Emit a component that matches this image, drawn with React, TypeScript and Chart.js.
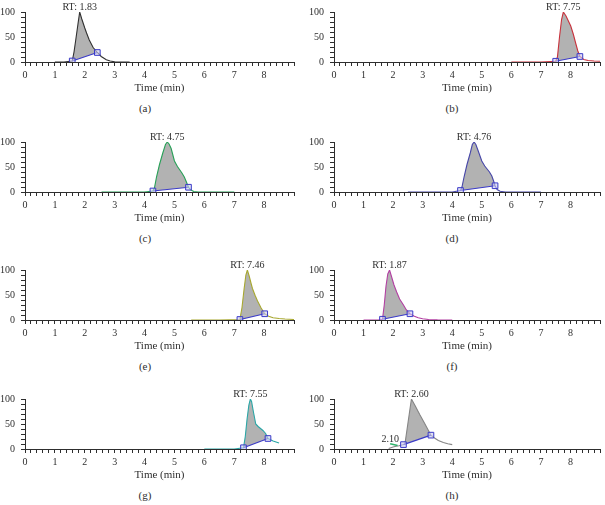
import React, { useEffect, useRef } from "react";
import { Chart, registerables } from "chart.js";

Chart.register(...registerables);

// ---------- data (time in min, relative abundance in %) ----------
const timeA = [1.0, 1.3, 1.58, 1.64, 1.7, 1.77, 1.83, 1.9, 2.0, 2.06, 2.15, 2.28, 2.42, 2.55, 2.72, 2.85, 3.0, 3.2, 3.5];
const signalA = [0, 0, 2, 20, 45, 75, 100, 86, 68, 58, 44, 29, 19, 11, 4.5, 2, 0.5, 0.1, 0];
const baseTimeA = [1.58, 2.42];
const baseSignalA = [2, 19];

const timeB = [6.0, 7.0, 7.5, 7.56, 7.63, 7.7, 7.76, 7.85, 7.93, 8.01, 8.1, 8.18, 8.25, 8.32, 8.45, 8.6, 8.8, 9.0];
const signalB = [0, 0, 1.5, 10, 50, 85, 100, 92, 82, 72, 55, 37, 22, 11, 5, 3, 2, 1.5];
const baseTimeB = [7.5, 8.32];
const baseSignalB = [1.5, 11];

const timeC = [2.56, 4.0, 4.28, 4.33, 4.4, 4.5, 4.61, 4.7, 4.76, 4.82, 4.89, 5.0, 5.1, 5.17, 5.25, 5.33, 5.4, 5.47, 5.55, 5.65, 5.8, 6.5, 7.0];
const signalC = [0, 0, 2, 8, 30, 55, 78, 95, 100, 96, 87, 62, 51, 45, 38, 30, 20, 9.5, 4, 1, 0, 0, 0];
const baseTimeC = [4.28, 5.47];
const baseSignalC = [2, 9.5];

const timeD = [2.5, 4.0, 4.28, 4.33, 4.4, 4.5, 4.61, 4.68, 4.74, 4.8, 4.88, 5.0, 5.1, 5.18, 5.26, 5.34, 5.4, 5.45, 5.52, 5.62, 5.8, 6.5, 7.0];
const signalD = [0, 0, 3, 10, 30, 55, 78, 95, 100, 95, 82, 62, 52, 46, 40, 32, 22, 12.5, 5, 1.5, 0, 0, 0];
const baseTimeD = [4.28, 5.45];
const baseSignalD = [3, 12.5];

const timeE = [5.56, 6.5, 7.19, 7.26, 7.33, 7.39, 7.44, 7.5, 7.56, 7.61, 7.7, 7.78, 7.9, 8.02, 8.15, 8.3, 8.5, 8.7, 9.0];
const signalE = [0, 0, 1, 25, 62, 90, 100, 88, 74, 63, 49, 38, 24, 12.5, 7.5, 4.5, 3, 2, 1];
const baseTimeE = [7.19, 8.02];
const baseSignalE = [1, 12.5];

const timeF = [1.0, 1.5, 1.64, 1.7, 1.76, 1.82, 1.88, 1.95, 2.03, 2.12, 2.22, 2.34, 2.45, 2.57, 2.7, 2.85, 3.0, 3.2, 3.5, 4.0];
const signalF = [0, 0, 1.5, 30, 68, 92, 100, 86, 70, 56, 42, 31, 20, 12.5, 8, 4.5, 2.5, 1, 0.3, 0];
const baseTimeF = [1.64, 2.57];
const baseSignalF = [1.5, 12.5];

const timeG = [6.0, 7.0, 7.31, 7.37, 7.43, 7.49, 7.54, 7.58, 7.64, 7.72, 7.8, 7.88, 7.96, 8.05, 8.13, 8.3, 8.5];
const signalG = [0, 0, 2.5, 25, 60, 88, 100, 95, 75, 50, 45, 41, 37, 31, 21, 16, 12];
const baseTimeG = [7.31, 8.13];
const baseSignalG = [2.5, 21];

const timeH = [1.85, 2.0, 2.1, 2.2, 2.35, 2.4, 2.5, 2.62, 2.75, 2.9, 3.05, 3.2, 3.28, 3.4, 3.53, 3.7, 3.85, 4.0];
const signalH = [1, 4, 5.5, 6.5, 8.8, 10, 51, 100, 86, 69, 53, 36.5, 27.7, 22, 17, 13, 10.5, 8.8];
const baseTimeH = [2.35, 3.28];
const baseSignalH = [8.8, 27.7];
const minorTimeH = [1.9, 2.15];
const minorSignalH = [10.5, 7];

const rtLabels = ["1.83", "7.75", "4.75", "4.76", "7.46", "1.87", "7.55", "2.60"];
const panelLetters = ["a", "b", "c", "d", "e", "f", "g", "h"];
const xLabelValues = [0, 1, 2, 3, 4, 5, 6, 7, 8];
const yLabelValues = [0, 50, 100];
const xTitle = "Time (min)";

// ---------- styling / layout ----------
const FONT = '"Liberation Serif", "DejaVu Serif", serif';
const AXIS = "#2e2e2e";
const BASE_COLOR = "#3b3bc8";
const FILL = "#b2b2b2";
const PAD_TOP = 9;
const PLOT_H = 53;
const XAXIS_H = 33;
const YAXIS_W = 25;
const CANVAS_H = PAD_TOP + PLOT_H + XAXIS_H;

type PanelCfg = {
  time: number[];
  signal: number[];
  baseTime: number[];
  baseSignal: number[];
  color: string;
  left: number;
  top: number;
  width: number;
  rt: string;
  letter: string;
  minorTime?: number[];
  minorSignal?: number[];
  minorLabel?: string;
};

const colLeft = [0, 309];
const colWidth = [299, 296];
const rowTop = [0, 130, 258, 387];
const colors = ["#303030", "#c8323c", "#27a057", "#4646a8", "#a8a830", "#b23fa2", "#2aa6a6", "#858585"];
const series = [
  [timeA, signalA, baseTimeA, baseSignalA],
  [timeB, signalB, baseTimeB, baseSignalB],
  [timeC, signalC, baseTimeC, baseSignalC],
  [timeD, signalD, baseTimeD, baseSignalD],
  [timeE, signalE, baseTimeE, baseSignalE],
  [timeF, signalF, baseTimeF, baseSignalF],
  [timeG, signalG, baseTimeG, baseSignalG],
  [timeH, signalH, baseTimeH, baseSignalH],
];

const panels: PanelCfg[] = series.map((s, i) => ({
  time: s[0],
  signal: s[1],
  baseTime: s[2],
  baseSignal: s[3],
  color: colors[i],
  left: colLeft[i % 2],
  top: rowTop[Math.floor(i / 2)],
  width: colWidth[i % 2],
  rt: rtLabels[i],
  letter: panelLetters[i],
  ...(i === 7 ? { minorTime: minorTimeH, minorSignal: minorSignalH, minorLabel: "2.10" } : {}),
}));

function Panel({ cfg }: { cfg: PanelCfg }) {
  const ref = useRef<HTMLCanvasElement>(null);
  useEffect(() => {
    if (!ref.current) return;
    const curve = cfg.time.map((t, i) => ({ x: t, y: cfg.signal[i] }));
    const area = curve.filter((p) => p.x >= cfg.baseTime[0] - 1e-9 && p.x <= cfg.baseTime[1] + 1e-9);
    const base = cfg.baseTime.map((t, i) => ({ x: t, y: cfg.baseSignal[i] }));
    let peakIdx = 0;
    cfg.signal.forEach((v, i) => {
      if (v > cfg.signal[peakIdx]) peakIdx = i;
    });
    const peakTime = cfg.time[peakIdx];

    const datasets: any[] = [
      {
        data: area,
        borderWidth: 0,
        pointRadius: 0,
        backgroundColor: FILL,
        fill: 2,
        tension: 0,
        order: 4,
      },
      {
        data: curve,
        borderColor: cfg.color,
        borderWidth: 1.1,
        pointRadius: 0,
        fill: false,
        tension: 0,
        order: 3,
      },
      {
        data: base,
        borderColor: BASE_COLOR,
        borderWidth: 1.2,
        pointStyle: "rect",
        pointRadius: 4,
        pointBorderColor: BASE_COLOR,
        pointBackgroundColor: "rgba(205,205,240,0.6)",
        pointBorderWidth: 1,
        fill: false,
        tension: 0,
        order: 2,
      },
    ];
    if (cfg.minorTime && cfg.minorSignal) {
      datasets.push({
        data: cfg.minorTime.map((t, i) => ({ x: t, y: cfg.minorSignal![i] })),
        borderColor: "#2fb36a",
        borderWidth: 1.5,
        pointRadius: 0,
        fill: false,
        order: 1,
      });
    }

    const labelPlugin = {
      id: "rtLabel",
      afterDatasetsDraw(chart: any) {
        const { ctx, scales } = chart;
        const x = scales.x;
        const y = scales.y;
        ctx.save();
        ctx.font = `10px ${FONT}`;
        ctx.fillStyle = AXIS;
        ctx.textAlign = "center";
        ctx.textBaseline = "alphabetic";
        ctx.fillText(`RT: ${cfg.rt}`, x.getPixelForValue(peakTime), y.getPixelForValue(100) - 2);
        if (cfg.minorLabel && cfg.minorTime && cfg.minorSignal) {
          ctx.textAlign = "center";
          ctx.fillText(cfg.minorLabel, x.getPixelForValue(cfg.minorTime[0]), y.getPixelForValue(cfg.minorSignal[0]) - 2);
        }
        ctx.restore();
      },
    };

    const chart = new Chart(ref.current, {
      type: "line",
      data: { datasets },
      plugins: [labelPlugin],
      options: {
        animation: false,
        responsive: false,
        devicePixelRatio: 1,
        events: [],
        layout: { padding: { top: PAD_TOP, right: cfg.width - YAXIS_W - 270, left: 0, bottom: 0 } },
        plugins: { legend: { display: false }, tooltip: { enabled: false } },
        scales: {
          x: {
            type: "linear",
            min: 0,
            max: 9,
            afterFit: (s: any) => {
              s.height = XAXIS_H;
            },
            afterBuildTicks: (s: any) => {
              const t: any[] = [];
              for (let k = 0; k <= 45; k++) t.push({ value: k * 0.2 });
              s.ticks = t;
            },
            ticks: {
              autoSkip: false,
              maxRotation: 0,
              padding: 3,
              color: AXIS,
              font: { family: FONT, size: 10 },
              callback: (v: any) => {
                const n = Number(v);
                const r = Math.round(n);
                return Math.abs(n - r) < 1e-6 && xLabelValues.includes(r) ? String(r) : "";
              },
            },
            grid: { display: true, drawOnChartArea: false, drawTicks: true, tickLength: 4, color: AXIS, lineWidth: 1 },
            border: { display: true, color: AXIS, width: 1 },
            title: { display: true, text: xTitle, color: AXIS, font: { family: FONT, size: 11 }, padding: 0 },
          },
          y: {
            type: "linear",
            min: 0,
            max: 100,
            afterFit: (s: any) => {
              s.width = YAXIS_W;
            },
            afterBuildTicks: (s: any) => {
              const t: any[] = [];
              for (let k = 0; k <= 10; k++) t.push({ value: k * 10 });
              s.ticks = t;
            },
            ticks: {
              autoSkip: false,
              padding: 6,
              color: AXIS,
              font: { family: FONT, size: 10 },
              callback: (v: any) => (yLabelValues.includes(Number(v)) ? String(v) : ""),
            },
            grid: { display: true, drawOnChartArea: false, drawTicks: true, tickLength: 4, color: AXIS, lineWidth: 1 },
            border: { display: true, color: AXIS, width: 1 },
          },
        },
      },
    });
    return () => chart.destroy();
  }, [cfg]);

  return (
    <>
      <canvas
        ref={ref}
        width={cfg.width}
        height={CANVAS_H}
        style={{ position: "absolute", left: cfg.left, top: cfg.top, width: cfg.width, height: CANVAS_H }}
      />
      <div
        style={{
          position: "absolute",
          left: cfg.left + (cfg.left === 0 ? 145 : 143) - 20,
          top: cfg.top + PAD_TOP + PLOT_H + 46 - 7,
          width: 40,
          textAlign: "center",
          fontFamily: FONT,
          fontSize: 11,
          lineHeight: "14px",
          color: AXIS,
        }}
      >
        ({cfg.letter})
      </div>
    </>
  );
}

export default function App() {
  return (
    <div
      style={{
        position: "fixed",
        left: 0,
        top: 0,
        width: 605,
        height: 505,
        overflow: "hidden",
        background: "#ffffff",
      }}
    >
      {panels.map((p) => (
        <Panel key={p.letter} cfg={p} />
      ))}
    </div>
  );
}
